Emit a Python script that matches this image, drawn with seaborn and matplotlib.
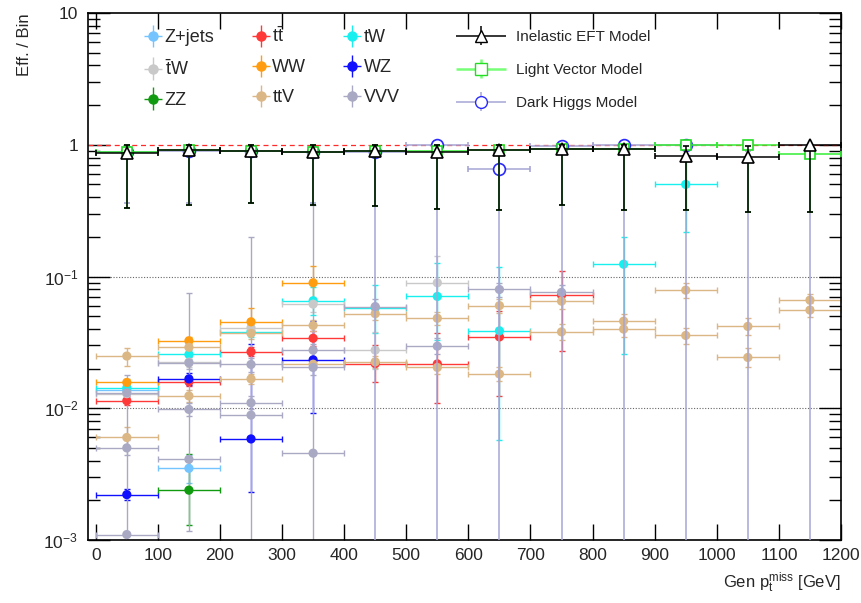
import numpy as np
import pandas as pd
import matplotlib
matplotlib.use("Agg")
import matplotlib.pyplot as plt
import seaborn as sns
from matplotlib.ticker import FixedLocator, FixedFormatter, LogLocator, NullFormatter
from matplotlib.container import ErrorbarContainer
from matplotlib.legend_handler import HandlerErrorbar

nan = np.nan

# ---------------- data ----------------
bin_centers = [50, 150, 250, 350, 450, 550, 650, 750, 850, 950, 1050, 1150]
bin_half_width = 50

# backgrounds: value, lower bound, upper bound
zjets_val = [0.0137, 0.0035, nan, nan, nan, nan, nan, nan, nan, nan, nan, nan]
zjets_lo = [0.0128, 0.0027, nan, nan, nan, nan, nan, nan, nan, nan, nan, nan]
zjets_hi = [0.0147, 0.0044, nan, nan, nan, nan, nan, nan, nan, nan, nan, nan]

ttbar_val = [0.0114, 0.0159, 0.0268, 0.0340, 0.0218, 0.0217, 0.0348, 0.0722, nan, nan, nan, nan]
ttbar_lo = [0.0106, 0.0148, 0.0248, 0.0296, 0.0159, 0.0110, 0.0123, 0.0270, nan, nan, nan, nan]
ttbar_hi = [0.0123, 0.0171, 0.0290, 0.0385, 0.0300, 0.0375, 0.0550, 0.1100, nan, nan, nan, nan]

tw_val = [0.0143, 0.0256, 0.0382, 0.0654, 0.0580, 0.0706, 0.0387, nan, 0.124, 0.50, nan, nan]
tw_lo = [0.0134, 0.0238, 0.0345, 0.0510, 0.0375, 0.0330, 0.0057, nan, 0.026, 0.217, nan, nan]
tw_hi = [0.0153, 0.0275, 0.0420, 0.0834, 0.0860, 0.1260, 0.1180, nan, 0.200, 0.800, nan, nan]

tbarw_val = [0.0129, 0.0224, 0.0408, 0.0617, 0.0276, 0.0896, nan, nan, nan, nan, nan, nan]
tbarw_lo = [0.0120, 0.0205, 0.0370, 0.0540, 0.0200, 0.0500, nan, nan, nan, nan, nan, nan]
tbarw_hi = [0.0138, 0.0244, 0.0450, 0.0700, 0.0380, 0.1430, nan, nan, nan, nan, nan, nan]

ww_val = [0.0157, 0.0325, 0.0453, 0.0896, nan, nan, nan, nan, nan, nan, nan, nan]
ww_lo = [0.0147, 0.0305, 0.0400, 0.0650, nan, nan, nan, nan, nan, nan, nan, nan]
ww_hi = [0.0168, 0.0346, 0.0580, 0.1200, nan, nan, nan, nan, nan, nan, nan, nan]

wz_val = [0.00221, 0.0167, 0.00585, 0.0233, nan, nan, nan, nan, nan, nan, nan, nan]
wz_lo = [0.00200, 0.0151, 0.00230, 0.0092, nan, nan, nan, nan, nan, nan, nan, nan]
wz_hi = [0.00245, 0.0184, 0.03100, 0.0460, nan, nan, nan, nan, nan, nan, nan, nan]

zz_val = [nan, 0.00239, nan, nan, nan, nan, nan, nan, nan, nan, nan, nan]
zz_lo = [nan, 0.00131, nan, nan, nan, nan, nan, nan, nan, nan, nan, nan]
zz_hi = [nan, 0.00450, nan, nan, nan, nan, nan, nan, nan, nan, nan, nan]

ttv1_val = [0.0249, 0.0290, 0.0370, 0.0425, 0.0522, 0.0482, 0.0601, 0.0650, 0.0458, 0.0788, 0.0418, 0.0662]
ttv1_lo = [0.0209, 0.0265, 0.0335, 0.0385, 0.0470, 0.0430, 0.0530, 0.0570, 0.0400, 0.0690, 0.0360, 0.0590]
ttv1_hi = [0.0288, 0.0318, 0.0405, 0.0468, 0.0578, 0.0538, 0.0680, 0.0740, 0.0522, 0.0900, 0.0485, 0.0740]

ttv2_val = [0.0060, 0.0124, 0.0167, 0.0216, 0.0225, 0.0204, 0.0182, 0.0380, 0.0399, 0.0357, 0.0243, 0.0556]
ttv2_lo = [0.0050, 0.0112, 0.0152, 0.0197, 0.0203, 0.0183, 0.0160, 0.0330, 0.0350, 0.0310, 0.0205, 0.0490]
ttv2_hi = [0.0072, 0.0137, 0.0183, 0.0236, 0.0248, 0.0226, 0.0206, 0.0435, 0.0455, 0.0410, 0.0287, 0.0630]

vvv1_val = [0.0131, 0.0221, 0.0215, 0.0276, 0.0591, 0.0296, 0.0797, 0.0758, nan, nan, nan, nan]
vvv1_lo = [0.0121, 0.0200, 0.0190, 0.0245, 0.0520, 0.0260, 0.0700, 0.0660, nan, nan, nan, nan]
vvv1_hi = [0.0142, 0.0243, 0.0240, 0.0310, 0.0670, 0.0340, 0.0900, 0.0860, nan, nan, nan, nan]

vvv2_val = [0.0050, 0.0098, 0.0110, 0.0204, nan, nan, nan, nan, nan, nan, nan, nan]
vvv2_lo = [0.0044, 0.0088, 0.0098, 0.0180, nan, nan, nan, nan, nan, nan, nan, nan]
vvv2_hi = [0.0057, 0.0109, 0.0123, 0.0230, nan, nan, nan, nan, nan, nan, nan, nan]

vvv3_val = [0.0011, 0.0041, 0.00887, 0.00456, nan, nan, nan, nan, nan, nan, nan, nan]
vvv3_lo = [0.0005, 0.00118, 0.0005, 0.0005, nan, nan, nan, nan, nan, nan, nan, nan]
vvv3_hi = [0.018, 0.075, 0.200, 0.350, nan, nan, nan, nan, nan, nan, nan, nan]

# signals
eft_val = [0.87, 0.91, 0.895, 0.885, 0.895, 0.885, 0.91, 0.93, 0.93, 0.82, 0.81, 1.0]
eft_lo = [0.33, 0.35, 0.36, 0.35, 0.34, 0.325, 0.32, 0.35, 0.32, 0.32, 0.31, 0.31]
eft_hi = [0.99, 0.99, 0.99, 0.99, 0.99, 0.99, 0.99, 0.99, 0.99, 0.97, 0.97, 1.0]

lv_val = [0.875, 0.91, 0.89, 0.88, 0.90, 0.89, 0.91, 0.935, 0.935, 1.0, 1.0, 0.855]
lv_lo = [0.33, 0.35, 0.36, 0.35, 0.34, 0.325, 0.32, 0.35, 0.32, 0.32, 0.31, 0.31]
lv_hi = [0.99, 0.99, 0.99, 0.99, 0.99, 0.99, 0.99, 0.99, 0.99, 1.0, 1.0, 0.98]

dh_val = [0.875, 0.90, 0.89, 0.88, 0.875, 1.0, 0.66, 0.98, 1.0, 1.0, 0.0, 0.0]
dh_lo = [0.36, 0.36, 0.36, 0.36, 0.0005, 0.0005, 0.0005, 0.0005, 0.0005, 0.0005, 0.0, 0.0]
dh_hi = [0.99, 0.99, 0.99, 0.99, 0.99, 1.0, 0.95, 1.0, 1.0, 1.0, 0.9, 0.9]

# ---------------- style ----------------
sns.set_theme(style="ticks")
plt.rcParams["font.family"] = ["Liberation Sans", "DejaVu Sans"]
plt.rcParams["mathtext.fontset"] = "custom"
plt.rcParams["mathtext.rm"] = "Liberation Sans"
plt.rcParams["mathtext.it"] = "Liberation Sans:italic"
plt.rcParams["mathtext.bf"] = "Liberation Sans:bold"

backgrounds = [
    ("Z+jets", zjets_val, zjets_lo, zjets_hi, "#74c4ff"),
    ("ttbar", ttbar_val, ttbar_lo, ttbar_hi, "#ff3838"),
    ("tW", tw_val, tw_lo, tw_hi, "#18f0f0"),
    ("tbarW", tbarw_val, tbarw_lo, tbarw_hi, "#c9c9c9"),
    ("WW", ww_val, ww_lo, ww_hi, "#ff9c10"),
    ("WZ", wz_val, wz_lo, wz_hi, "#1010ff"),
    ("ZZ", zz_val, zz_lo, zz_hi, "#109a10"),
    ("ttV_1", ttv1_val, ttv1_lo, ttv1_hi, "#dcb786"),
    ("ttV_2", ttv2_val, ttv2_lo, ttv2_hi, "#dcb786"),
    ("VVV_1", vvv1_val, vvv1_lo, vvv1_hi, "#a9a9c4"),
    ("VVV_2", vvv2_val, vvv2_lo, vvv2_hi, "#a9a9c4"),
    ("VVV_3", vvv3_val, vvv3_lo, vvv3_hi, "#a9a9c4"),
]

fig = plt.figure(figsize=(8.62, 6.03), dpi=100)
ax = fig.add_axes([88 / 862, 63 / 603, 753 / 862, 527 / 603])
ax.set_yscale("log")

x = np.array(bin_centers, dtype=float)

# reference lines
ax.axhline(1.0, color="#ff2a2a", ls=(0, (4, 3)), lw=0.9, zorder=1)
for g in (0.01, 0.1):
    ax.axhline(g, color="#666666", ls=(0, (1, 1.5)), lw=0.8, zorder=0.5)

# background error bars
rows = []
for name, val, lo, hi, col in backgrounds:
    v = np.array(val, float)
    l = np.array(lo, float)
    h = np.array(hi, float)
    m = np.isfinite(v)
    ax.errorbar(x[m], v[m], xerr=bin_half_width, yerr=[v[m] - l[m], h[m] - v[m]],
                fmt="none", ecolor=col, elinewidth=1.0, capsize=2.2, capthick=1.0,
                zorder=2)
    for xi, vi in zip(x[m], v[m]):
        rows.append({"pt": xi, "eff": vi, "series": name})

df = pd.DataFrame(rows)
palette = {name: col for name, _, _, _, col in backgrounds}
sns.scatterplot(data=df, x="pt", y="eff", hue="series", palette=palette,
                hue_order=[b[0] for b in backgrounds], s=44, linewidth=0,
                legend=False, ax=ax, zorder=3)

# signals
def draw_signal(val, lo, hi, marker, mec, lc, ms, z):
    v = np.array(val, float)
    l = np.array(lo, float)
    h = np.array(hi, float)
    return ax.errorbar(x, v, xerr=bin_half_width, yerr=[v - l, h - v], fmt=marker,
                       ms=ms, mfc="white", mec=mec, mew=1.2, color=lc, ecolor=lc,
                       elinewidth=1.1, capsize=2.5, capthick=1.1, zorder=z)

draw_signal(dh_val, dh_lo, dh_hi, "o", "#2a2aff", "#a5a5d6", 8.5, 4)
draw_signal(lv_val, lv_lo, lv_hi, "s", "#22dd22", "#33ee33", 7.5, 5)
draw_signal(eft_val, eft_lo, eft_hi, "^", "black", "black", 8.5, 6)

# axes
ax.set_xlim(-12.5, 1200)
ax.set_ylim(1e-3, 10)
ax.xaxis.set_major_locator(FixedLocator(list(range(0, 1201, 100))))
ax.xaxis.set_minor_locator(FixedLocator([]))
ax.yaxis.set_major_locator(FixedLocator([1e-3, 1e-2, 1e-1, 1, 10]))
ax.yaxis.set_major_formatter(FixedFormatter([r"$10^{-3}$", r"$10^{-2}$", r"$10^{-1}$", "1", "10"]))
ax.yaxis.set_minor_locator(LogLocator(base=10, subs=np.arange(2, 10)))
ax.yaxis.set_minor_formatter(NullFormatter())
ax.tick_params(axis="y", which="major", direction="in", length=16, width=1.0,
               left=True, right=True, pad=7, labelsize=12.5, color="black")
ax.tick_params(axis="y", which="minor", direction="in", length=8.5, width=1.0,
               left=True, right=True, color="black")
ax.tick_params(axis="x", which="major", direction="in", length=11.5, width=1.0,
               bottom=True, top=True, pad=6, labelsize=12.5, color="black")
for sp in ax.spines.values():
    sp.set_linewidth(1.2)
    sp.set_color("black")
    sp.set_visible(True)

ax.set_xlabel(r"Gen $\mathrm{p}_{\mathrm{t}}^{\mathrm{miss}}$ [GeV]", fontsize=12, ha="right")
ax.xaxis.set_label_coords(1.0, -0.058)
ax.set_ylabel("Eff. / Bin", fontsize=12, ha="right")
ax.yaxis.set_label_coords(-0.075, 1.0)

# legends
def proxy(color, marker="o", ms=6.5):
    return ax.errorbar([nan], [nan], xerr=[1], yerr=[1], fmt=marker, color=color,
                       ms=ms, mfc=color, mec=color, elinewidth=1.0, capsize=0)

bg_entries = [
    ("Z+jets", "#74c4ff"), (r"$\bar{\mathrm{t}}$W", "#c9c9c9"), ("ZZ", "#109a10"),
    (r"t$\bar{\mathrm{t}}$", "#ff3838"), ("WW", "#ff9c10"), ("ttV", "#dcb786"),
    ("tW", "#18f0f0"), ("WZ", "#1010ff"), ("VVV", "#a9a9c4"),
]
bg_handles = [proxy(c) for _, c in bg_entries]
leg1 = ax.legend(bg_handles, [t for t, _ in bg_entries], ncol=3, loc="upper left",
                 bbox_to_anchor=(144 / 862, 1 - 27 / 603), bbox_transform=fig.transFigure,
                 frameon=False, fontsize=13, handlelength=1.0, handletextpad=0.15,
                 columnspacing=2.05, labelspacing=0.72, borderpad=0, borderaxespad=0,
                 handler_map={ErrorbarContainer: HandlerErrorbar(xerr_size=0.5, yerr_size=0.62)})
ax.add_artist(leg1)

sig_handles = [
    ax.errorbar([nan], [nan], xerr=[1], yerr=[1], fmt="^", ms=9, mfc="white", mec="black",
                color="black", elinewidth=1.1, capsize=0),
    ax.errorbar([nan], [nan], xerr=[1], yerr=[1], fmt="s", ms=8, mfc="white", mec="#22dd22",
                color="#77ff77", elinewidth=1.8, capsize=0),
    ax.errorbar([nan], [nan], xerr=[1], yerr=[1], fmt="o", ms=8.5, mfc="white", mec="#2a2aff",
                color="#a5a5d6", elinewidth=1.1, capsize=0),
]
leg2 = ax.legend(sig_handles, ["Inelastic EFT Model", "Light Vector Model", "Dark Higgs Model"],
                 loc="upper left", bbox_to_anchor=(456 / 862, 1 - 30 / 603),
                 bbox_transform=fig.transFigure, frameon=False, fontsize=11,
                 handlelength=3.3, handletextpad=0.6, labelspacing=1.25,
                 borderpad=0, borderaxespad=0,
                 handler_map={ErrorbarContainer: HandlerErrorbar(xerr_size=1.65, yerr_size=0.62)})

fig.savefig("out.png", dpi=100)
